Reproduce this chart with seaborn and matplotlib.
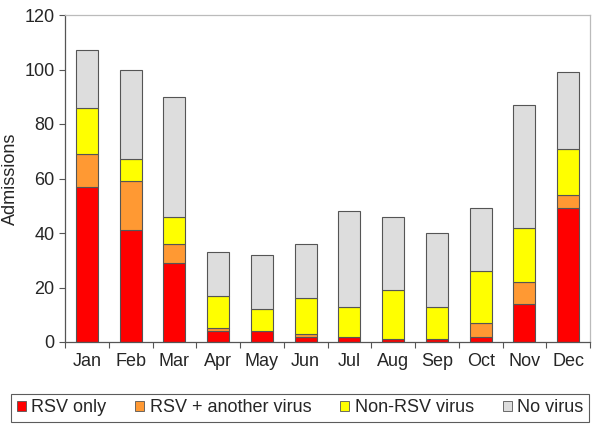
import pandas as pd
import matplotlib.pyplot as plt
import seaborn as sns
from matplotlib.ticker import FixedLocator
from matplotlib.patches import Patch

months = ["Jan", "Feb", "Mar", "Apr", "May", "Jun",
          "Jul", "Aug", "Sep", "Oct", "Nov", "Dec"]
rsv_only = [57, 41, 29, 4, 4, 2, 2, 1, 1, 2, 14, 49]
rsv_plus = [12, 18, 7, 1, 0, 1, 0, 0, 0, 5, 8, 5]
non_rsv = [17, 8, 10, 12, 8, 13, 11, 18, 12, 19, 20, 17]
no_virus = [21, 33, 44, 16, 20, 20, 35, 27, 27, 23, 45, 28]

series = ["RSV only", "RSV + another virus", "Non-RSV virus", "No virus"]
colors = ["#FF0000", "#FF9933", "#FFFF00", "#DDDDDD"]

df = pd.DataFrame({"month": months, "RSV only": rsv_only,
                   "RSV + another virus": rsv_plus,
                   "Non-RSV virus": non_rsv, "No virus": no_virus})

sns.set_style("white")
plt.rcParams["font.family"] = ["Liberation Sans", "DejaVu Sans"]

fig = plt.figure(figsize=(6, 4.28), dpi=100)
ax = fig.add_axes([65 / 600, 86 / 428, 525 / 600, 327 / 428])

# stack the four layers month by month
bottom = pd.Series([0] * len(months))
for name, col in zip(series, colors):
    sns.barplot(x="month", y=name, data=df, bottom=bottom, color=col,
                saturation=1, width=0.5, edgecolor="#555555",
                linewidth=0.8, ax=ax)
    bottom = bottom + df[name]

ax.set_ylim(0, 120)
ax.set_xlim(-0.5, 11.5)
ax.set_yticks(range(0, 121, 20))
ax.set_ylabel("Admissions", fontsize=13)
ax.set_xlabel("")
ax.tick_params(axis="both", labelsize=13)
ax.tick_params(axis="x", which="major", length=0, pad=8)
ax.xaxis.set_minor_locator(FixedLocator([i - 0.5 for i in range(13)]))
ax.tick_params(axis="x", which="minor", length=4, width=0.8,
               color="#555555", direction="out", bottom=True)
ax.tick_params(axis="y", length=4, width=0.8, color="#555555",
               direction="out", left=True)

for s in ["left", "bottom"]:
    ax.spines[s].set_color("#555555")
    ax.spines[s].set_linewidth(0.9)
for s in ["top", "right"]:
    ax.spines[s].set_color("#BBBBBB")
    ax.spines[s].set_linewidth(0.9)

handles = [Patch(facecolor=c, edgecolor="#555555", linewidth=0.6)
           for c in colors]
leg = fig.legend(handles, series, loc="center", ncol=4,
                 bbox_to_anchor=(0.5, 1 - 408 / 428), fontsize=13,
                 frameon=True, fancybox=False, handlelength=0.5,
                 handleheight=0.5, handletextpad=0.3, columnspacing=1.6,
                 borderpad=0.3)
leg.get_frame().set_edgecolor("#333333")
leg.get_frame().set_linewidth(0.8)

fig.savefig("out.png", dpi=100)
